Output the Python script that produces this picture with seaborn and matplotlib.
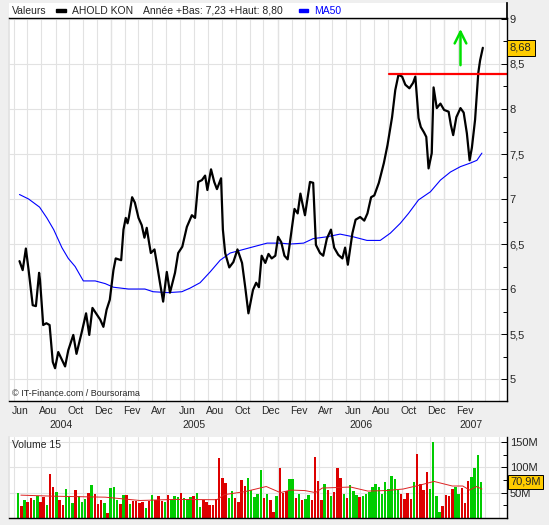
import pandas as pd
import matplotlib
matplotlib.use("Agg")
import matplotlib.pyplot as plt
import matplotlib.dates as mdates
from matplotlib.ticker import MultipleLocator, FuncFormatter, NullFormatter
from matplotlib.transforms import blended_transform_factory
from matplotlib.patches import Rectangle
import seaborn as sns

W, H = 549, 525
BG = "#efefef"
GRID = "#e2e2e2"
YEAR_GRID = "#a6a6a6"

# ── data ──────────────────────────────────────────────────────────────────────
price_dates = [
    "2004-06-14", "2004-06-21", "2004-06-28", "2004-07-04", "2004-07-13", "2004-07-20",
    "2004-07-27", "2004-07-29", "2004-08-05", "2004-08-12", "2004-08-19", "2004-08-26",
    "2004-08-31", "2004-09-07", "2004-09-22", "2004-09-29", "2004-10-10", "2004-10-17",
    "2004-10-28", "2004-11-07", "2004-11-14", "2004-11-21", "2004-12-08", "2004-12-15",
    "2004-12-22", "2004-12-29",
    "2005-01-06", "2005-01-11", "2005-01-23", "2005-01-28", "2005-02-02", "2005-02-06",
    "2005-02-09", "2005-02-16", "2005-02-22", "2005-03-02", "2005-03-09", "2005-03-15",
    "2005-03-20", "2005-03-25", "2005-03-29", "2005-04-06", "2005-04-11", "2005-04-18",
    "2005-04-25", "2005-05-03", "2005-05-10", "2005-05-21", "2005-05-28", "2005-06-06",
    "2005-06-16", "2005-06-27", "2005-07-04", "2005-07-11", "2005-07-19", "2005-07-26",
    "2005-07-31", "2005-08-08", "2005-08-15", "2005-08-21", "2005-08-30", "2005-09-03",
    "2005-09-08", "2005-09-17", "2005-09-26", "2005-10-05", "2005-10-15", "2005-10-22",
    "2005-10-29", "2005-11-08", "2005-11-15", "2005-11-21", "2005-11-27", "2005-12-05",
    "2005-12-12", "2005-12-19", "2005-12-27",
    "2006-01-02", "2006-01-09", "2006-01-16", "2006-01-23", "2006-02-01", "2006-02-07",
    "2006-02-14", "2006-02-20", "2006-02-24", "2006-03-02", "2006-03-08", "2006-03-13",
    "2006-03-20", "2006-03-26", "2006-04-04", "2006-04-11", "2006-04-19", "2006-04-28",
    "2006-05-05", "2006-05-14", "2006-05-23", "2006-05-29", "2006-06-04", "2006-06-14",
    "2006-06-21", "2006-07-01", "2006-07-10", "2006-07-17", "2006-07-25", "2006-08-01",
    "2006-08-11", "2006-08-22", "2006-08-30", "2006-09-09", "2006-09-16", "2006-09-23",
    "2006-10-01", "2006-10-08", "2006-10-17", "2006-10-25", "2006-10-30", "2006-11-06",
    "2006-11-11", "2006-11-18", "2006-11-23", "2006-11-28", "2006-12-05", "2006-12-09",
    "2006-12-16", "2006-12-24",
    "2007-01-01", "2007-01-11", "2007-01-16", "2007-01-21", "2007-01-28", "2007-02-06",
    "2007-02-13", "2007-02-20", "2007-02-26", "2007-03-03", "2007-03-10", "2007-03-17",
    "2007-03-21", "2007-03-27",
]
price_values = [
    6.31, 6.21, 6.45, 6.21, 5.82, 5.81, 6.18, 6.10, 5.60, 5.62, 5.60, 5.19, 5.12, 5.30,
    5.14, 5.32, 5.49, 5.28, 5.51, 5.73, 5.49, 5.79, 5.66, 5.58, 5.77, 5.88,
    6.21, 6.34, 6.32, 6.66, 6.79, 6.73, 6.80, 7.02, 6.96, 6.79, 6.71, 6.57, 6.68, 6.52,
    6.40, 6.44, 6.29, 6.07, 5.86, 6.19, 5.96, 6.18, 6.40, 6.47, 6.69, 6.82, 6.79, 7.19,
    7.21, 7.26, 7.10, 7.33, 7.19, 7.11, 7.23, 6.66, 6.40, 6.24, 6.30, 6.44, 6.29, 6.02,
    5.73, 5.99, 6.07, 6.02, 6.37, 6.29, 6.39, 6.34, 6.37,
    6.58, 6.52, 6.37, 6.33, 6.67, 6.89, 6.84, 7.06, 6.96, 6.82, 7.02, 7.19, 7.18, 6.49,
    6.40, 6.37, 6.56, 6.66, 6.46, 6.38, 6.34, 6.46, 6.27, 6.62, 6.77, 6.80, 6.76, 6.84,
    7.02, 7.04, 7.18, 7.40, 7.60, 7.91, 8.21, 8.38, 8.36, 8.27, 8.23, 8.29, 8.36, 7.90,
    7.80, 7.74, 7.69, 7.34, 7.51, 8.24, 8.01, 8.06,
    7.99, 7.97, 7.82, 7.71, 7.91, 8.01, 7.96, 7.73, 7.43, 7.57, 7.88, 8.40, 8.54, 8.68,
]

ma50_dates = [
    "2004-06-14", "2004-07-04", "2004-07-28", "2004-08-13", "2004-08-28", "2004-09-15",
    "2004-09-29", "2004-10-14", "2004-11-01", "2004-11-27", "2004-12-19", "2005-01-06",
    "2005-02-08", "2005-03-16", "2005-04-03", "2005-05-06", "2005-06-05", "2005-06-23",
    "2005-07-15", "2005-08-06", "2005-08-28", "2005-09-19", "2005-10-11", "2005-11-02",
    "2005-12-09", "2006-01-07", "2006-01-29", "2006-02-27", "2006-03-20", "2006-04-19",
    "2006-05-18", "2006-06-16", "2006-07-16", "2006-08-14", "2006-09-05", "2006-09-27",
    "2006-10-15", "2006-11-06", "2006-12-02", "2006-12-24", "2007-01-15", "2007-02-06",
    "2007-02-28", "2007-03-14", "2007-03-25",
]
ma50_values = [
    7.05, 7.00, 6.91, 6.79, 6.66, 6.46, 6.34, 6.25, 6.09, 6.09, 6.06, 6.02,
    6.00, 6.00, 5.97, 5.96, 5.97, 6.01, 6.07, 6.19, 6.32, 6.40, 6.43, 6.46,
    6.51, 6.51, 6.50, 6.51, 6.56, 6.58, 6.61, 6.58, 6.54, 6.54, 6.62, 6.73,
    6.84, 6.99, 7.08, 7.21, 7.30, 7.36, 7.40, 7.43, 7.51,
]

# weekly volumes (millions) from the week of 2004-06-11; "g" = up week, "r" = down week
vol_start = "2004-06-11"
vol_values = [
    50, 24, 35, 31, 40, 36, 43, 32, 41, 26,
    86, 61, 52, 35, 26, 57, 41, 29, 55, 43,
    32, 38, 50, 65, 48, 28, 36, 30, 9, 59,
    61, 36, 28, 46, 46, 28, 34, 34, 30, 32,
    19, 34, 45, 36, 44, 34, 32, 46, 35, 44,
    41, 50, 40, 36, 41, 44, 50, 22, 35, 31,
    26, 26, 38, 119, 79, 69, 40, 53, 40, 32,
    75, 63, 79, 55, 42, 48, 95, 40, 48, 35,
    12, 44, 98, 50, 54, 77, 76, 40, 48, 35,
    38, 46, 35, 121, 72, 35, 66, 55, 43, 52,
    98, 79, 48, 40, 65, 54, 45, 41, 43, 48,
    52, 62, 66, 62, 47, 70, 57, 83, 76, 55,
    48, 38, 50, 38, 70, 127, 67, 55, 91, 57,
    150, 43, 12, 24, 45, 43, 57, 62, 48, 60,
    30, 72, 81, 98, 124, 71,
]
vol_dir = [
    "grgrrggrrg", "rrgrrgggrg", "ggrgrrrgrg", "ggrgrgrrrr", "grgrrrgrgg",
    "grgggrggrr", "rrrrrrggrr", "rrgggggrgr", "rgrrrggrgr", "ggrrrrgrgr",
    "rrgrgggrgg", "gggggggggg", "rrrrgrrrrg", "gggrrrrggr", "rrgggg",
]

volma_dates = [
    "2004-06-17", "2004-08-25", "2004-12-19", "2005-03-05", "2005-05-21", "2005-08-21",
    "2005-09-06", "2005-10-22", "2005-12-07", "2006-01-07", "2006-01-30", "2006-03-02",
    "2006-03-25", "2006-04-09", "2006-06-10", "2006-07-18", "2006-08-26", "2006-10-03",
    "2006-11-10", "2006-12-10", "2007-01-19", "2007-02-11", "2007-02-26", "2007-03-13",
    "2007-03-25",
]
volma_values = [
    45, 43, 41, 34.5, 36.6, 36, 46, 52, 62, 50, 55, 54, 50, 59, 61, 53, 54, 57,
    65, 72, 63, 63, 55, 62, 57,
]

resistance_level = 8.39
resistance_start = "2006-09-03"
arrow_date = "2007-02-06"
arrow_from, arrow_to = 8.456, 8.92
last_price = 8.68
last_volume = 70.9

month_names = ["Jun", "Aou", "Oct", "Dec", "Fev", "Avr"] * 2 + ["Jun", "Aou", "Oct", "Dec", "Fev"]
month_label_dates = [
    "2004-06-16", "2004-08-16", "2004-10-16", "2004-12-16", "2005-02-16", "2005-04-16",
    "2005-06-16", "2005-08-16", "2005-10-16", "2005-12-16", "2006-02-16", "2006-04-16",
    "2006-06-16", "2006-08-16", "2006-10-16", "2006-12-16", "2007-02-16",
]
year_names = ["2004", "2005", "2006", "2007"]
year_label_dates = ["2004-09-13", "2005-07-02", "2006-07-02", "2007-02-28"]

X_START, X_END = pd.Timestamp("2004-05-22"), pd.Timestamp("2007-05-19")

# ── figure ────────────────────────────────────────────────────────────────────
sns.set_theme(style="white")
plt.rcParams["font.family"] = ["Liberation Sans", "DejaVu Sans"]

fig = plt.figure(figsize=(W / 100, H / 100), dpi=100, facecolor=BG)


def px_axes(x0, y0, x1, y1):
    return fig.add_axes([x0 / W, 1 - y1 / H, (x1 - x0) / W, (y1 - y0) / H])


def comma(v, _pos=None):
    return f"{v:g}".replace(".", ",")


def style_time_axis(ax):
    ax.set_facecolor("white")
    ax.set_xlim(X_START, X_END)
    ax.xaxis.set_major_locator(mdates.MonthLocator())
    ax.xaxis.set_major_formatter(NullFormatter())
    ax.grid(axis="x", color=GRID, lw=0.8)
    for yr in (2005, 2006, 2007):
        ax.axvline(pd.Timestamp(f"{yr}-01-01"), color=YEAR_GRID, lw=0.8, zorder=0.5)
    ax.set_axisbelow(True)
    ax.yaxis.tick_right()
    ax.tick_params(axis="x", direction="out", length=2.5, width=0.6, color="black")
    ax.tick_params(axis="y", which="major", direction="in", length=4, width=0.7,
                   color="black", pad=2, labelsize=8)
    ax.tick_params(axis="y", which="minor", direction="in", length=3, width=0.7,
                   color="black")
    for side in ("right", "bottom"):
        ax.spines[side].set_color("black")
        ax.spines[side].set_linewidth(1.0)
    ax.spines["left"].set_color(GRID)


# header strip
head = px_axes(9, 3, 507, 18)
head.set_facecolor("white")
head.set_xlim(9, 507)
head.set_ylim(18, 3)
head.set_xticks([])
head.set_yticks([])
for side in ("left", "top", "bottom"):
    head.spines[side].set_visible(False)
head.spines["right"].set_color("black")
head.text(12, 10.5, "Valeurs", fontsize=7.5, va="center")
head.add_patch(Rectangle((56, 9), 10, 3, color="black"))
head.text(72, 10.5, "AHOLD KON", fontsize=7.5, va="center")
head.text(143, 10.5, "Année +Bas: 7,23 +Haut: 8,80", fontsize=7.5, va="center")
head.add_patch(Rectangle((299, 9), 9, 3, color="#0000ff"))
head.text(314, 10.5, "MA50", fontsize=7.5, va="center", color="#0000ff")

# price panel
ax = px_axes(9, 18, 507, 401)
style_time_axis(ax)
ax.set_ylim(4.756, 9.011)
ax.yaxis.set_major_locator(MultipleLocator(0.5))
ax.yaxis.set_minor_locator(MultipleLocator(0.25))
ax.yaxis.set_major_formatter(FuncFormatter(comma))
ax.grid(axis="y", color=GRID, lw=0.8)
ax.spines["top"].set_color("black")
ax.spines["top"].set_linewidth(1.0)

sns.lineplot(x=pd.to_datetime(ma50_dates), y=ma50_values, ax=ax, color="#0000ff",
             lw=0.8, sort=False)
sns.lineplot(x=pd.to_datetime(price_dates), y=price_values, ax=ax, color="black",
             lw=1.6, sort=False)
ax.plot([pd.Timestamp(resistance_start), X_END], [resistance_level] * 2,
        color="#ff0000", lw=1.6)
ax.annotate("", xy=(pd.Timestamp(arrow_date), arrow_to),
            xytext=(pd.Timestamp(arrow_date), arrow_from),
            arrowprops=dict(arrowstyle="->,head_length=0.7,head_width=0.35",
                            color="#00e000", lw=1.8))
ax.set_xlim(X_START, X_END)
ax.set_xlabel("")
ax.set_ylabel("")

ry = blended_transform_factory(ax.transAxes, ax.transData)
ax.text(1.006, last_price, comma(last_price), transform=ry, fontsize=8,
        va="center", ha="left",
        bbox=dict(boxstyle="square,pad=0.25", fc="#ffcc00", ec="black", lw=0.7))

bx = blended_transform_factory(ax.transData, ax.transAxes)
for name, d in zip(month_names, month_label_dates):
    ax.text(pd.Timestamp(d), -10 / 383, name, transform=bx, fontsize=7.5,
            ha="center", va="center")
for name, d in zip(year_names, year_label_dates):
    ax.text(pd.Timestamp(d), -24 / 383, name, transform=bx, fontsize=7.5,
            ha="center", va="center")
ax.text(3 / 498, 7 / 383, "© IT-Finance.com / Boursorama", transform=ax.transAxes,
        fontsize=6.5, va="center")

# volume panel
axv = px_axes(9, 437, 507, 518)
style_time_axis(axv)
axv.set_ylim(0, 159.5)
axv.yaxis.set_major_locator(MultipleLocator(50))
axv.yaxis.set_minor_locator(MultipleLocator(25))
axv.yaxis.set_major_formatter(FuncFormatter(lambda v, p: f"{v:g}M" if v > 0 else ""))
axv.grid(axis="y", color=GRID, lw=0.8)
axv.spines["top"].set_visible(False)
axv.tick_params(axis="x", length=0)

vol_dates = pd.date_range(vol_start, periods=len(vol_values), freq="7D")
directions = "".join(vol_dir)
colors = ["#00cc00" if c == "g" else "#dd0000" for c in directions]
axv.bar(vol_dates, vol_values, width=5.4, color=colors, linewidth=0)
sns.lineplot(x=pd.to_datetime(volma_dates), y=volma_values, ax=axv, color="#dd2222",
             lw=0.7, sort=False)
axv.set_xlim(X_START, X_END)
axv.set_xlabel("")
axv.set_ylabel("")
axv.text(3 / 498, 0.9, "Volume 15", transform=axv.transAxes, fontsize=7.5, va="center")
rv = blended_transform_factory(axv.transAxes, axv.transData)
axv.text(1.006, last_volume, comma(last_volume) + "M", transform=rv, fontsize=8,
         va="center", ha="left",
         bbox=dict(boxstyle="square,pad=0.2", fc="#ffcc00", ec="black", lw=0.7))

fig.savefig("out.png", dpi=100, facecolor=BG)
